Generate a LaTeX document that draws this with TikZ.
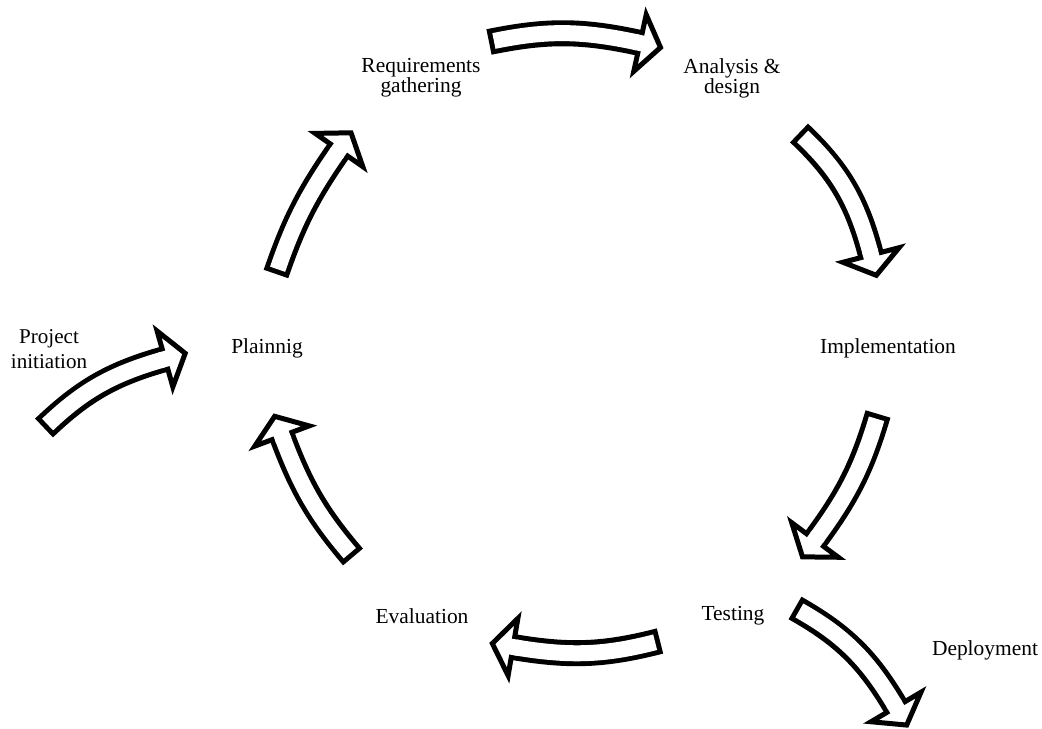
\documentclass[tikz,border=0pt]{standalone}
\usepackage{fontspec}
\setmainfont{Liberation Serif}
\usetikzlibrary{decorations.markings}

\begin{document}
\begin{tikzpicture}[
    x=0.02cm, y=0.02cm,
    lbl/.style={align=center, inner sep=0pt, font=\fontsize{12.2}{11.5}\selectfont},
    lblwide/.style={align=center, inner sep=0pt, font=\fontsize{12}{14.2}\selectfont},
    blockarrow/.style={draw=black, line width=0.52cm,
        postaction={draw=white, line width=0.32cm, shorten <=0.1cm},
        postaction={draw=none, decorate, decoration={markings, mark=at position 1 with {
            \draw[draw=black, fill=white, line width=0.1cm, line join=miter]
                (0,0.58cm) -- (0.42cm,0) -- (0,-0.58cm) -- cycle;
            \fill[white] (-0.1cm,-0.16cm) rectangle (0.1cm,0.16cm);
        }}}
    }
]
\useasboundingbox (0,0) rectangle (1042,-729);

% STAGES
\node[lbl] (req) at (421,-78) {Requirements\\gathering};
\node[lbl] (ana) at (732,-78) {Analysis \&\\design};
\node[lbl] (imp) at (888,-348) {Implementation};
\node[lbl] (tes) at (733,-616) {Testing};
\node[lbl] (eva) at (422,-616) {Evaluation};
\node[lbl] (pla) at (267,-348) {Plainnig};
\node[lblwide] (ini) at (49,-349) {Project\\initiation};
\node[lbl] (dep) at (985,-650) {Deployment};

% ARROW ENDS
\coordinate (req_s) at (489,-42);  \coordinate (ana_e) at (640,-43);
\coordinate (ana_s) at (799,-133); \coordinate (imp_e) at (871,-255);
\coordinate (imp_s) at (878,-414); \coordinate (tes_e) at (815,-540);
\coordinate (tes_s) at (660,-641); \coordinate (eva_e) at (513,-647);
\coordinate (eva_s) at (353,-557); \coordinate (pla_e) at (282,-436);
\coordinate (pla_s) at (276,-274); \coordinate (req_e) at (339,-150);
\coordinate (ini_s) at (44,-428);  \coordinate (ini_e) at (165,-359);
\coordinate (dep_s) at (795,-608); \coordinate (dep_e) at (896,-707);

% CYCLE
\draw[blockarrow] (req_s) to[bend left=12] (ana_e);
\draw[blockarrow] (ana_s) to[bend left=16] (imp_e);
\draw[blockarrow] (imp_s) to[bend left=10] (tes_e);
\draw[blockarrow] (tes_s) to[bend left=12] (eva_e);
\draw[blockarrow] (eva_s) to[bend left=10] (pla_e);
\draw[blockarrow] (pla_s) to[bend left=8] (req_e);

% ENTRY AND EXIT
\draw[blockarrow] (ini_s) to[bend left=14] (ini_e);
\draw[blockarrow] (dep_s) to[bend left=15] (dep_e);

\end{tikzpicture}
\end{document}
